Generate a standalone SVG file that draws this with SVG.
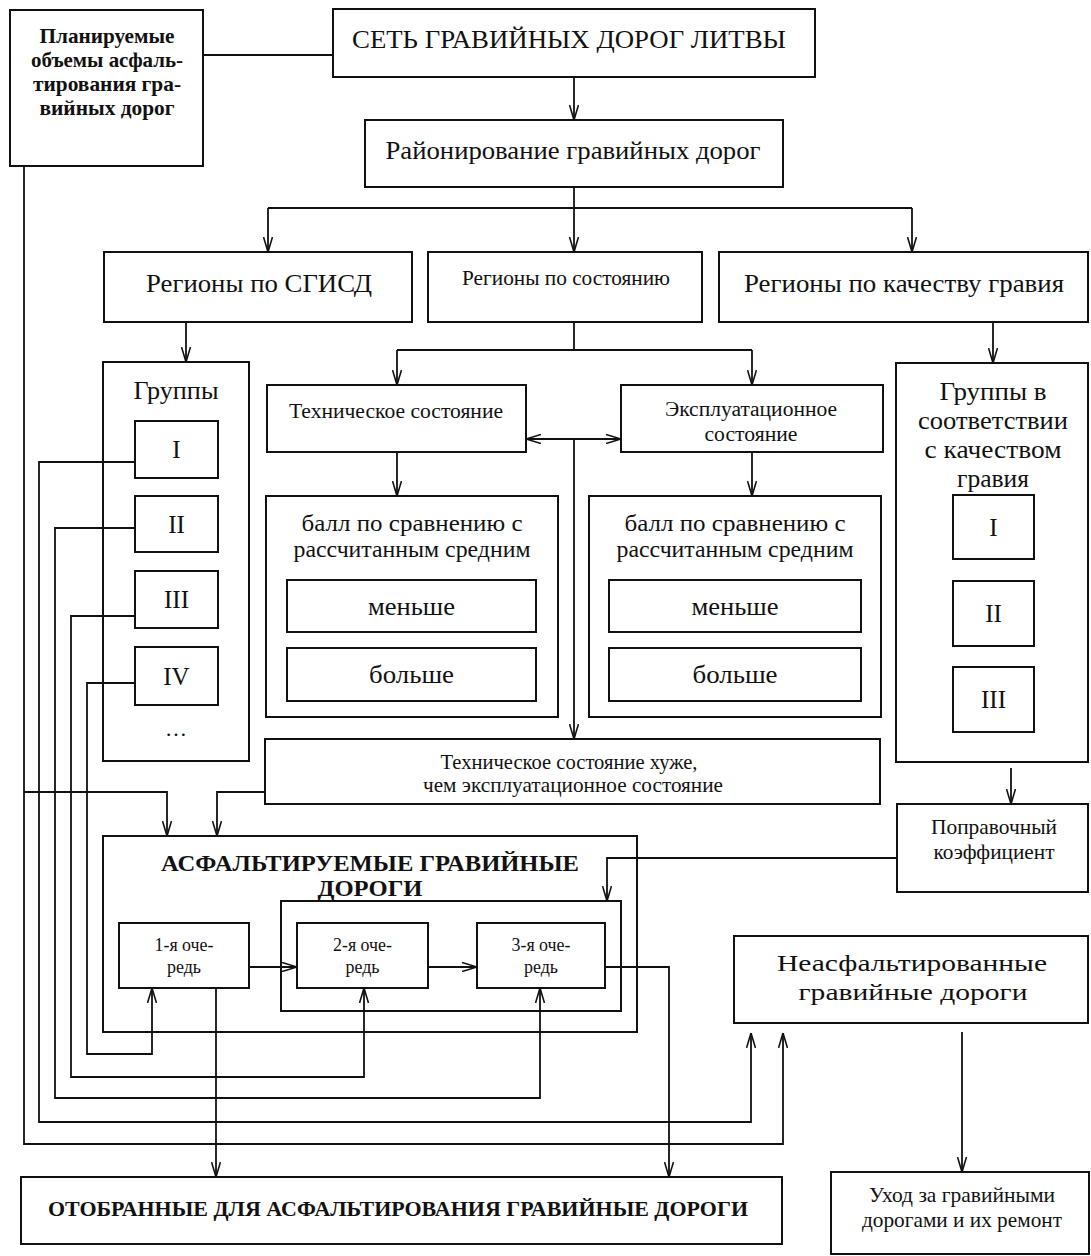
<svg xmlns="http://www.w3.org/2000/svg" width="1091" height="1256" viewBox="0 0 1091 1256">
<style>
.b{fill:#fff;stroke:#111;stroke-width:2}
.t{font-family:"Liberation Serif","Times New Roman",serif;fill:#111;text-anchor:middle}
.bd{font-weight:bold}
.c{fill:none;stroke:#111;stroke-width:1.8}
.a{marker-end:url(#arr)}
</style>
<defs>
<marker id="arr" viewBox="0 0 15 10" refX="15" refY="5" markerWidth="15" markerHeight="10" markerUnits="userSpaceOnUse" orient="auto-start-reverse">
<path d="M0,0.5 L15,5 L0,9.5" fill="none" stroke="#111" stroke-width="1.6"/>
</marker>
</defs>
<rect width="1091" height="1256" fill="#fff"/>

<g id="plan">
<rect class="b" x="10" y="10" width="193" height="156"/>
<text class="t bd" font-size="21" x="107" y="43" textLength="135" lengthAdjust="spacingAndGlyphs">Планируемые</text>
<text class="t bd" font-size="21" x="107" y="67" textLength="152" lengthAdjust="spacingAndGlyphs">объемы асфаль-</text>
<text class="t bd" font-size="21" x="107" y="91" textLength="148" lengthAdjust="spacingAndGlyphs">тирования гра-</text>
<text class="t bd" font-size="21" x="107" y="115" textLength="135" lengthAdjust="spacingAndGlyphs">вийных дорог</text>
</g>

<g id="set">
<rect class="b" x="333" y="9" width="482" height="68"/>
<text class="t" font-size="26" x="569" y="48" textLength="434" lengthAdjust="spacingAndGlyphs">СЕТЬ ГРАВИЙНЫХ ДОРОГ ЛИТВЫ</text>
</g>

<g id="rayon">
<rect class="b" x="365" y="120" width="418" height="67"/>
<text class="t" font-size="25" x="573" y="159" textLength="375" lengthAdjust="spacingAndGlyphs">Районирование гравийных дорог</text>
</g>

<g id="reg1">
<rect class="b" x="104" y="252" width="308" height="70"/>
<text class="t" font-size="26" x="259" y="292" textLength="226" lengthAdjust="spacingAndGlyphs">Регионы по СГИСД</text>
</g>
<g id="reg2">
<rect class="b" x="428" y="252" width="274" height="70"/>
<text class="t" font-size="20" x="566" y="285" textLength="208" lengthAdjust="spacingAndGlyphs">Регионы по состоянию</text>
</g>
<g id="reg3">
<rect class="b" x="719" y="252" width="369" height="70"/>
<text class="t" font-size="26" x="904" y="292" textLength="320" lengthAdjust="spacingAndGlyphs">Регионы по качеству гравия</text>
</g>

<g id="groups">
<rect class="b" x="103" y="362" width="146" height="399"/>
<text class="t" font-size="25" x="176" y="399" textLength="85" lengthAdjust="spacingAndGlyphs">Группы</text>
<rect class="b" x="135" y="421" width="83" height="57"/>
<text class="t" font-size="25" x="176.5" y="458">I</text>
<rect class="b" x="135" y="496" width="83" height="56"/>
<text class="t" font-size="25" x="176.5" y="533">II</text>
<rect class="b" x="135" y="571" width="83" height="57"/>
<text class="t" font-size="25" x="176.5" y="608">III</text>
<rect class="b" x="135" y="647" width="83" height="58"/>
<text class="t" font-size="25" x="176.5" y="685">IV</text>
<text class="t" font-size="22" x="176" y="736">…</text>
</g>

<g id="tech">
<rect class="b" x="267" y="385" width="259" height="67"/>
<text class="t" font-size="20" x="396" y="418" textLength="214" lengthAdjust="spacingAndGlyphs">Техническое состояние</text>
</g>
<g id="expl">
<rect class="b" x="621" y="385" width="262" height="67"/>
<text class="t" font-size="20" x="751" y="416" textLength="172" lengthAdjust="spacingAndGlyphs">Эксплуатационное</text>
<text class="t" font-size="20" x="751" y="441" textLength="93" lengthAdjust="spacingAndGlyphs">состояние</text>
</g>

<g id="ball1">
<rect class="b" x="266" y="496" width="292" height="221"/>
<text class="t" font-size="23" x="412" y="531" textLength="221" lengthAdjust="spacingAndGlyphs">балл по сравнению с</text>
<text class="t" font-size="23" x="412" y="557" textLength="237" lengthAdjust="spacingAndGlyphs">рассчитанным средним</text>
<rect class="b" x="287" y="580" width="249" height="52"/>
<text class="t" font-size="25" x="411.5" y="615" textLength="87" lengthAdjust="spacingAndGlyphs">меньше</text>
<rect class="b" x="287" y="648" width="249" height="53"/>
<text class="t" font-size="25" x="411.5" y="683" textLength="85" lengthAdjust="spacingAndGlyphs">больше</text>
</g>
<g id="ball2">
<rect class="b" x="589" y="496" width="292" height="221"/>
<text class="t" font-size="23" x="735" y="531" textLength="221" lengthAdjust="spacingAndGlyphs">балл по сравнению с</text>
<text class="t" font-size="23" x="735" y="557" textLength="237" lengthAdjust="spacingAndGlyphs">рассчитанным средним</text>
<rect class="b" x="609" y="580" width="252" height="52"/>
<text class="t" font-size="25" x="735" y="615" textLength="87" lengthAdjust="spacingAndGlyphs">меньше</text>
<rect class="b" x="609" y="648" width="252" height="53"/>
<text class="t" font-size="25" x="735" y="683" textLength="85" lengthAdjust="spacingAndGlyphs">больше</text>
</g>

<g id="worse">
<rect class="b" x="265" y="739" width="615" height="65"/>
<text class="t" font-size="21" x="569" y="769" textLength="257" lengthAdjust="spacingAndGlyphs">Техническое состояние хуже,</text>
<text class="t" font-size="21" x="573" y="792" textLength="300" lengthAdjust="spacingAndGlyphs">чем эксплуатационное состояние</text>
</g>

<g id="groupsQ">
<rect class="b" x="896" y="363" width="192" height="399"/>
<text class="t" font-size="25" x="993" y="400" textLength="107" lengthAdjust="spacingAndGlyphs">Группы в</text>
<text class="t" font-size="25" x="993" y="429" textLength="150" lengthAdjust="spacingAndGlyphs">соответствии</text>
<text class="t" font-size="25" x="993" y="458" textLength="137" lengthAdjust="spacingAndGlyphs">с качеством</text>
<text class="t" font-size="25" x="993" y="487" textLength="72" lengthAdjust="spacingAndGlyphs">гравия</text>
<rect class="b" x="953" y="495" width="81" height="64"/>
<text class="t" font-size="25" x="993.5" y="536">I</text>
<rect class="b" x="953" y="581" width="81" height="65"/>
<text class="t" font-size="25" x="993.5" y="622">II</text>
<rect class="b" x="953" y="667" width="81" height="65"/>
<text class="t" font-size="25" x="993.5" y="708">III</text>
</g>

<g id="correct">
<rect class="b" x="897" y="804" width="191" height="88"/>
<text class="t" font-size="21" x="994" y="834" textLength="126" lengthAdjust="spacingAndGlyphs">Поправочный</text>
<text class="t" font-size="21" x="994" y="859" textLength="121" lengthAdjust="spacingAndGlyphs">коэффициент</text>
</g>

<g id="asph">
<rect class="b" x="103" y="836" width="534" height="196"/>
<text class="t bd" font-size="23" x="370" y="871" textLength="418" lengthAdjust="spacingAndGlyphs">АСФАЛЬТИРУЕМЫЕ ГРАВИЙНЫЕ</text>
<text class="t bd" font-size="23" x="370" y="896" textLength="105" lengthAdjust="spacingAndGlyphs">ДОРОГИ</text>
<rect class="b" x="281" y="901" width="340" height="110"/>
<g id="q1">
<rect class="b" x="119" y="923" width="130" height="65"/>
<text class="t" font-size="19" x="184" y="951" textLength="59" lengthAdjust="spacingAndGlyphs">1-я оче-</text>
<text class="t" font-size="19" x="184" y="973" textLength="34" lengthAdjust="spacingAndGlyphs">редь</text>
</g>
<g id="q2">
<rect class="b" x="297" y="923" width="131" height="65"/>
<text class="t" font-size="19" x="362.5" y="951" textLength="59" lengthAdjust="spacingAndGlyphs">2-я оче-</text>
<text class="t" font-size="19" x="362.5" y="973" textLength="34" lengthAdjust="spacingAndGlyphs">редь</text>
</g>
<g id="q3">
<rect class="b" x="477" y="923" width="128" height="65"/>
<text class="t" font-size="19" x="541" y="951" textLength="59" lengthAdjust="spacingAndGlyphs">3-я оче-</text>
<text class="t" font-size="19" x="541" y="973" textLength="34" lengthAdjust="spacingAndGlyphs">редь</text>
</g>
</g>

<g id="neasf">
<rect class="b" x="734" y="936" width="354" height="87"/>
<text class="t" font-size="24" x="912" y="971" textLength="270" lengthAdjust="spacingAndGlyphs">Неасфальтированные</text>
<text class="t" font-size="24" x="913" y="1000" textLength="229" lengthAdjust="spacingAndGlyphs">гравийные дороги</text>
</g>

<g id="selected">
<rect class="b" x="21" y="1177" width="761" height="67"/>
<text class="t bd" font-size="20" x="398" y="1216" textLength="700" lengthAdjust="spacingAndGlyphs">ОТОБРАННЫЕ ДЛЯ АСФАЛЬТИРОВАНИЯ ГРАВИЙНЫЕ ДОРОГИ</text>
</g>

<g id="care">
<rect class="b" x="831" y="1172" width="258" height="82"/>
<text class="t" font-size="21" x="962" y="1202" textLength="186" lengthAdjust="spacingAndGlyphs">Уход за гравийными</text>
<text class="t" font-size="21" x="962" y="1227" textLength="200" lengthAdjust="spacingAndGlyphs">дорогами и их ремонт</text>
</g>

<g id="connectors">
<line class="c" x1="203" y1="55" x2="333" y2="55"/>
<line class="c a" x1="574" y1="77" x2="574" y2="120"/>
<polyline class="c" points="574,187 574,208"/>
<polyline class="c" points="268,208 912,208"/>
<line class="c a" x1="268" y1="208" x2="268" y2="252"/>
<line class="c a" x1="574" y1="208" x2="574" y2="252"/>
<line class="c a" x1="912" y1="208" x2="912" y2="252"/>
<line class="c a" x1="186" y1="322" x2="186" y2="362"/>
<polyline class="c" points="574,322 574,350"/>
<polyline class="c" points="397,350 752,350"/>
<line class="c a" x1="397" y1="350" x2="397" y2="385"/>
<line class="c a" x1="752" y1="350" x2="752" y2="385"/>
<line class="c a" x1="993" y1="322" x2="993" y2="363"/>
<line class="c a" x1="526" y1="439" x2="621" y2="439" marker-start="url(#arr)"/>
<line class="c a" x1="574" y1="439" x2="574" y2="739"/>
<line class="c a" x1="397" y1="452" x2="397" y2="496"/>
<line class="c a" x1="752" y1="452" x2="752" y2="496"/>
<line class="c a" x1="1011" y1="768" x2="1011" y2="804"/>
<polyline class="c a" points="897,858 607,858 607,901"/>
<polyline class="c a" points="265,792 217,792 217,836"/>
<polyline class="c a" points="24,166 24,1144 783,1144 783,1033"/>
<polyline class="c a" points="24,792 167,792 167,836"/>
<polyline class="c a" points="135,462 39,462 39,1122 751,1122 751,1033"/>
<polyline class="c a" points="135,528 55,528 55,1098 540,1098 540,988"/>
<polyline class="c a" points="135,616 71,616 71,1077 364,1077 364,988"/>
<polyline class="c a" points="135,683 87,683 87,1054 152,1054 152,988"/>
<line class="c a" x1="249" y1="967" x2="297" y2="967"/>
<line class="c a" x1="428" y1="967" x2="477" y2="967"/>
<line class="c a" x1="216" y1="988" x2="216" y2="1177"/>
<polyline class="c a" points="605,967 669,967 669,1177"/>
<line class="c a" x1="962" y1="1032" x2="962" y2="1172"/>
</g>
</svg>
